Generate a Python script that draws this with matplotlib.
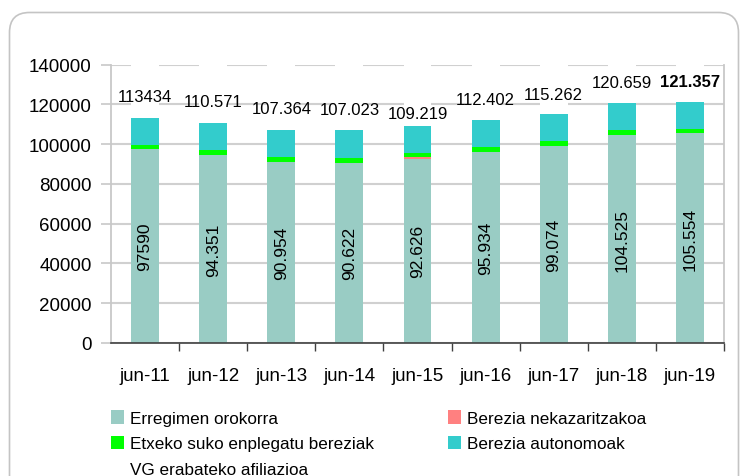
import numpy as np
import matplotlib
matplotlib.use("Agg")
import matplotlib.pyplot as plt
from matplotlib.patches import Patch, Rectangle, FancyBboxPatch

plt.rcParams['font.family'] = ['Liberation Sans', 'DejaVu Sans']

# ------- data -------
months = ['jun-11', 'jun-12', 'jun-13', 'jun-14', 'jun-15',
          'jun-16', 'jun-17', 'jun-18', 'jun-19']
orokorra = [97590, 94351, 90954, 90622, 92626, 95934, 99074, 104525, 105554]
nekazaritza = [0, 0, 0, 0, 1100, 0, 0, 0, 0]
etxeko = [2000, 2500, 2500, 2400, 1900, 2500, 2500, 2500, 2100]
autonomoak = [13840, 13720, 13910, 14000, 13590, 13970, 13690, 13630, 13700]
total = [113434, 110571, 107364, 107023, 109219, 112402, 115262, 120659, 121357]

names = ['Erregimen orokorra', 'Berezia nekazaritzakoa',
         'Etxeko suko enplegatu bereziak', 'Berezia autonomoak',
         'VG erabateko afiliazioa']
colors = ['#99CCC4', '#FF8080', '#00FF00', '#33CCCC', 'white']

# label lift (pixels) for the total labels, as placed in the original
lab_dy = [21, 22, 21, 21, 12, 20, 19, 21, 20]


def fmt(v, i):
    s = f"{v:,}".replace(",", ".")
    return s.replace(".", "") if i == 0 else s


# ------- figure -------
fig = plt.figure(figsize=(7.41, 4.77), dpi=100)
ax = fig.add_axes([111/741, 1-344/477, 613/741, 278.3/477])

x = np.arange(len(months))
w = 0.41
bottom = np.zeros(len(months))
for vals, c in zip([orokorra, nekazaritza, etxeko, autonomoak], colors[:4]):
    ax.bar(x, vals, w, bottom=bottom, color=c, zorder=1)
    bottom += np.array(vals)

# white "total" series stacked on top, clipped just above the axis max
white = ax.bar(x, total, w, bottom=bottom, color='white', zorder=1.2, clip_on=False)
clip = Rectangle((-1, 0), 20, 141500, transform=ax.transData)
for b in white:
    b.set_clip_path(clip)

ax.set_xlim(-0.5, len(months) - 0.5)
ax.set_ylim(0, 140000)
ax.set_yticks(np.arange(0, 140001, 20000))
ax.set_axisbelow(True)
ax.yaxis.grid(True, color='#D0D0D0', linewidth=1.5)

ax.set_xticks(x)
ax.set_xticklabels(months)
ax.set_xticks(np.arange(0.5, len(months) - 0.5 + 0.01, 1), minor=True)
ax.tick_params(axis='x', which='major', length=0, pad=17, labelsize=13.5)
ax.tick_params(axis='x', which='minor', length=6, width=1, color='#404040', direction='out')
ax.tick_params(axis='y', length=7, width=1.2, color='#C8C8C8', pad=7, labelsize=13.5)

for s in ['left', 'right']:
    ax.spines[s].set_color('#C8C8C8')
    ax.spines[s].set_linewidth(1.3)
ax.spines['top'].set_visible(False)
ax.spines['bottom'].set_color('#404040')
ax.spines['bottom'].set_linewidth(1.2)

# labels inside the base segment
for i, v in enumerate(orokorra):
    ax.text(x[i], v / 2, fmt(v, i), rotation=90, ha='center', va='center',
            fontsize=12.5)

# total labels above bars
for i, v in enumerate(total):
    ax.annotate(fmt(v, i), (x[i], v), xytext=(0, lab_dy[i]*0.72),
                textcoords='offset points', ha='center', va='center',
                fontsize=12, fontweight='bold' if i == len(total) - 1 else 'normal',
                zorder=5)

# ------- legend -------
handles = [Patch(facecolor=c, edgecolor='none') for c in colors]
order = [0, 2, 4, 1, 3]
leg = fig.legend([handles[k] for k in order], [names[k] for k in order],
                 loc='upper left', bbox_to_anchor=(111/741, 1-411/477), ncol=2,
                 frameon=False, fontsize=12.3, handlelength=0.75, handleheight=0.85,
                 handletextpad=0.35, columnspacing=4.35, labelspacing=0.58,
                 borderpad=0, borderaxespad=0)

# ------- rounded frame -------
frame = FancyBboxPatch((0.095, -0.5), 7.29, 4.635 + 0.5,
                       boxstyle='round,pad=0,rounding_size=0.2',
                       transform=fig.dpi_scale_trans, facecolor='none',
                       edgecolor='#C4C4C4', linewidth=1.2, zorder=0)
fig.patches.append(frame)

fig.savefig('out.png', dpi=100)
